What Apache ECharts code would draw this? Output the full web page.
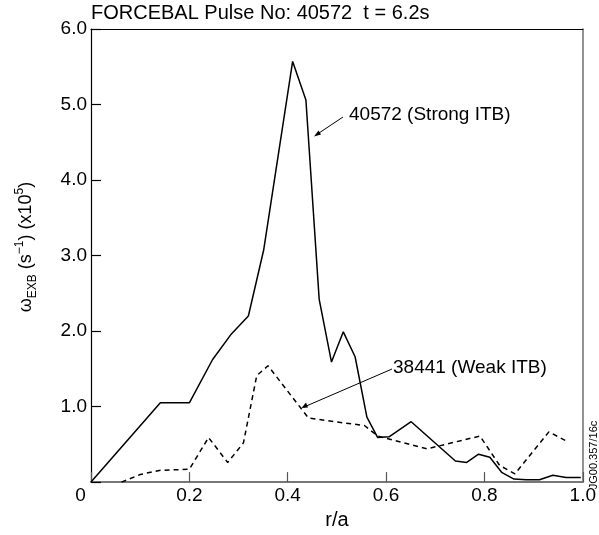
<!DOCTYPE html>
<html>
<head>
<meta charset="utf-8">
<script src="https://cdn.jsdelivr.net/npm/echarts@6/dist/echarts.min.js"></script>
<style>html,body{margin:0;padding:0;background:#fff}#c{width:599px;height:535px}</style>
</head>
<body>
<div id="c"></div>
<script>
// Data
var strongR = [0.0, 0.141, 0.200, 0.247, 0.284, 0.320, 0.351, 0.410, 0.437, 0.464, 0.489, 0.513, 0.537, 0.561, 0.583, 0.606, 0.651, 0.741, 0.764, 0.788, 0.811, 0.835, 0.860, 0.885, 0.912, 0.939, 0.966, 0.996];
var strongV = [0.0, 1.05, 1.05, 1.62, 1.95, 2.20, 3.07, 5.57, 5.06, 2.42, 1.59, 1.99, 1.66, 0.86, 0.59, 0.60, 0.80, 0.28, 0.26, 0.37, 0.33, 0.13, 0.04, 0.03, 0.03, 0.09, 0.06, 0.06];
var weakR = [0.062, 0.100, 0.139, 0.200, 0.239, 0.278, 0.310, 0.337, 0.360, 0.442, 0.495, 0.556, 0.583, 0.683, 0.791, 0.831, 0.862, 0.931, 0.965];
var weakV = [0.0, 0.10, 0.155, 0.17, 0.59, 0.26, 0.52, 1.41, 1.54, 0.85, 0.80, 0.75, 0.61, 0.44, 0.61, 0.22, 0.11, 0.665, 0.55];
var xTicks = [0, 0.2, 0.4, 0.6, 0.8, 1.0];
var yTicks = [1.0, 2.0, 3.0, 4.0, 5.0, 6.0];

function pairs(xs, ys) { return xs.map(function (x, i) { return [x, ys[i]]; }); }

var FONT = '"Liberation Sans", Arial, sans-serif';
var chart = echarts.init(document.getElementById('c'), null, { renderer: 'canvas' });
chart.setOption({
  animation: false,
  backgroundColor: '#fff',
  title: {
    text: 'FORCEBAL Pulse No: 40572  t = 6.2s',
    left: 86, top: -2,
    textStyle: { fontFamily: FONT, fontSize: 20, fontWeight: 'normal', color: '#000' }
  },
  grid: { left: 91, top: 29, right: 12, bottom: 43, show: false },
  xAxis: [{
    type: 'value', min: 0, max: 1, interval: 0.2, position: 'bottom',
    axisLine: { onZero: false, lineStyle: { color: '#777', width: 2 } },
    axisTick: { inside: true, length: 10, lineStyle: { color: '#555', width: 1.2 } },
    splitLine: { show: false },
    axisLabel: {
      color: '#000', fontFamily: FONT, fontSize: 19, margin: 4,
      formatter: function (v) {
        if (xTicks.indexOf(+v.toFixed(1)) < 0) return '';
        return v === 0 ? '{z|0}' : v.toFixed(1);
      },
      rich: { z: { fontFamily: FONT, fontSize: 19, color: '#000', padding: [0, 21, 0, 0] } }
    },
    name: 'r/a', nameLocation: 'middle', nameGap: 19,
    nameTextStyle: { color: '#000', fontFamily: FONT, fontSize: 20 }
  }, {
    type: 'value', min: 0, max: 1, position: 'top',
    axisLine: { show: true, onZero: false, lineStyle: { color: '#000', width: 1.2 } },
    axisTick: { show: false }, axisLabel: { show: false }, splitLine: { show: false }
  }],
  yAxis: [{
    type: 'value', min: 0, max: 6, interval: 1, position: 'left',
    axisLine: { onZero: false, lineStyle: { color: '#000', width: 1.2 } },
    axisTick: { inside: true, length: 10, lineStyle: { color: '#000', width: 1.2 } },
    splitLine: { show: false },
    axisLabel: {
      color: '#000', fontFamily: FONT, fontSize: 19, margin: 4,
      formatter: function (v) { return yTicks.indexOf(v) < 0 ? '' : v.toFixed(1); }
    }
  }, {
    type: 'value', min: 0, max: 6, position: 'right',
    axisLine: { show: true, onZero: false, lineStyle: { color: '#777', width: 1.6 } },
    axisTick: { show: false }, axisLabel: { show: false }, splitLine: { show: false }
  }],
  series: [
    {
      type: 'line', data: pairs(strongR, strongV), symbol: 'none',
      lineStyle: { color: '#000', width: 1.5 }
    },
    {
      type: 'line', data: pairs(weakR, weakV), symbol: 'none',
      lineStyle: { color: '#000', width: 1.5, type: [5, 4] }
    }
  ],
  graphic: [
    {
      type: 'text', x: 26, y: 247, rotation: Math.PI / 2,
      style: {
        text: '{n|ω}{sub|EXB}{n| (s}{sup|−1}{n|) (x10}{sup|5}{n|)}',
        fontFamily: FONT, fill: '#000', align: 'center', verticalAlign: 'middle',
        rich: {
          n: { fontSize: 18, fontFamily: FONT, lineHeight: 28, verticalAlign: 'middle' },
          sub: { fontSize: 12, fontFamily: FONT, lineHeight: 28, verticalAlign: 'bottom', padding: [0, 0, 1, 0] },
          sup: { fontSize: 12, fontFamily: FONT, lineHeight: 28, verticalAlign: 'top', padding: [2, 0, 0, 0] }
        }
      }
    },
    {
      type: 'text', x: 349, y: 115,
      style: { text: '40572 (Strong ITB)', fontFamily: FONT, fontSize: 19, fill: '#000', verticalAlign: 'middle' }
    },
    { type: 'line', shape: { x1: 343, y1: 117, x2: 316, y2: 135 }, style: { stroke: '#000', lineWidth: 1 } },
    { type: 'polygon', shape: { points: [[314, 136.5], [318.5, 130.5], [321, 134.5]] }, style: { fill: '#000' } },
    {
      type: 'text', x: 393, y: 368,
      style: { text: '38441 (Weak ITB)', fontFamily: FONT, fontSize: 19, fill: '#000', verticalAlign: 'middle' }
    },
    { type: 'line', shape: { x1: 392, y1: 369, x2: 304, y2: 407 }, style: { stroke: '#000', lineWidth: 1 } },
    { type: 'polygon', shape: { points: [[301.5, 408], [306, 402.5], [308, 407.5]] }, style: { fill: '#000' } },
    {
      type: 'text', x: 594, y: 455, rotation: Math.PI / 2,
      style: { text: 'JG00.357/16c', fontFamily: FONT, fontSize: 11, fill: '#000', align: 'center', verticalAlign: 'middle' }
    }
  ]
});
</script>
</body>
</html>
